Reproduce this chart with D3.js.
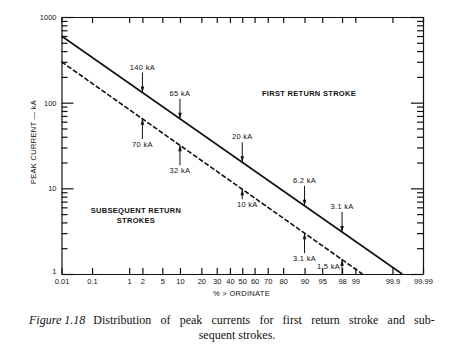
<!DOCTYPE html>
<html>
<head>
<meta charset="utf-8">
<script src="https://cdn.jsdelivr.net/npm/d3@7"></script>
<style>
    body { margin: 0; background: #fff; }
    svg { display: block; }
    .axis path, .axis line { stroke: #111; stroke-width: 1.2; }
    .axis text { font-family: 'Liberation Sans', Arial, sans-serif; fill: #111; }
    .label { font-family: 'Liberation Sans', Arial, sans-serif; font-size: 7.5px; fill: #111; letter-spacing: 0.3px; }
    .caption { font-family: 'Liberation Serif', 'Times New Roman', serif; font-size: 12px; fill: #111; }
</style>
</head>
<body>
<svg id="chart" width="474" height="351"></svg>
<script>
/**
 * Data.
 */
// Probability axis (% > ordinate)
const xTicks = [0.01, 0.1, 1, 2, 5, 10, 20, 30, 40, 50, 60, 70, 80, 90, 95, 98, 99, 99.9, 99.99];
// Peak current axis (kA), log scale
const yTicks = [1, 10, 100, 1000];
// Straight lines on probability paper, [percent, kA]
const firstStroke = [[0.01, 600], [99.95, 1]];
const subsequentStrokes = [[0.01, 300], [99.33, 1]];
// Marked values along each line
const firstMarks = [
    { p: 2, label: '140  kA' },
    { p: 10, label: '65  kA' },
    { p: 50, label: '20  kA' },
    { p: 90, label: '6.2  kA' },
    { p: 98, label: '3.1  kA' }
];
const subsequentMarks = [
    { p: 2, label: '70  kA' },
    { p: 10, label: '32  kA' },
    { p: 50, label: '10  kA' },
    { p: 90, label: '3.1  kA' },
    { p: 98, label: '1.5  kA' }
];

/**
 * Visual configs.
 */
const margin = { top: 17, left: 61.5 },
    plotWidth = 361.5,
    plotHeight = 257,
    majorTick = 12,
    minorTick = 6,
    arrowLen = 20;

// Inverse of the standard normal CDF (Acklam's approximation)
function probit(p) {
    const a = [-39.69683028665376, 220.9460984245205, -275.9285104469687, 138.3577518672690, -30.66479806614716, 2.506628277459239],
        b = [-54.47609879822406, 161.5858368580409, -155.6989798598866, 66.80131188771972, -13.28068155288572],
        c = [-0.007784894002430293, -0.3223964580411365, -2.400758277161838, -2.549732539343734, 4.374664141464968, 2.938163982698783],
        d = [0.007784695709041462, 0.3224671290700398, 2.445134137142996, 3.754408661907416];
    const lo = 0.02425;
    let q, r;
    if (p < lo) {
        q = Math.sqrt(-2 * Math.log(p));
        return (((((c[0] * q + c[1]) * q + c[2]) * q + c[3]) * q + c[4]) * q + c[5]) /
            ((((d[0] * q + d[1]) * q + d[2]) * q + d[3]) * q + 1);
    }
    if (p > 1 - lo) return -probit(1 - p);
    q = p - 0.5;
    r = q * q;
    return (((((a[0] * r + a[1]) * r + a[2]) * r + a[3]) * r + a[4]) * r + a[5]) * q /
        (((((b[0] * r + b[1]) * r + b[2]) * r + b[3]) * r + b[4]) * r + 1);
}
const z = pct => probit(pct / 100);

/**
 * D3.
 */
const xScale = d3.scaleLinear()
    .domain([z(0.01), z(99.99)])
    .range([0, plotWidth]);
const yScale = d3.scaleLog()
    .domain([1, 1000])
    .range([plotHeight, 0]);

const svg = d3.select('#chart');
const g = svg.append('g').attr('transform', 'translate(' + margin.left + ',' + margin.top + ')');

// Minor log ticks 2..9 per decade
const minorValues = [];
[1, 10, 100].forEach(dec => d3.range(2, 10).forEach(k => minorValues.push(dec * k)));

// Axes
const xValues = xTicks.map(z);
g.append('g').attr('class', 'axis x')
    .attr('transform', 'translate(0,' + plotHeight + ')')
    .call(d3.axisBottom(xScale).tickValues(xValues).tickSizeInner(-minorTick).tickSizeOuter(0).tickPadding(5)
        .tickFormat((d, i) => xTicks[i]));
g.append('g').attr('class', 'axis x-top')
    .call(d3.axisTop(xScale).tickValues(xValues).tickSizeInner(-minorTick).tickSizeOuter(0).tickFormat(''));

const yAxisG = g.append('g').attr('class', 'axis y')
    .call(d3.axisLeft(yScale).tickValues(yTicks).tickSizeInner(-majorTick).tickSizeOuter(0).tickPadding(5)
        .tickFormat(d3.format('d')));
// Lowest label sits a bit above the corner, clear of the 0.01 label
yAxisG.selectAll('.tick text').filter(d => d === 1).attr('dy', '-0.1em');
g.append('g').attr('class', 'axis y-minor')
    .call(d3.axisLeft(yScale).tickValues(minorValues).tickSizeInner(-minorTick).tickSizeOuter(0).tickFormat(''))
    .select('.domain').remove();
g.append('g').attr('class', 'axis y-right')
    .attr('transform', 'translate(' + plotWidth + ',0)')
    .call(d3.axisRight(yScale).tickValues(yTicks).tickSizeInner(-majorTick).tickSizeOuter(0).tickFormat(''));
g.append('g').attr('class', 'axis y-right-minor')
    .attr('transform', 'translate(' + plotWidth + ',0)')
    .call(d3.axisRight(yScale).tickValues(minorValues).tickSizeInner(-minorTick).tickSizeOuter(0).tickFormat(''))
    .select('.domain').remove();
g.selectAll('.axis text').attr('font-family', null).attr('font-size', null).style('font-size', '7.5px');

// Lines
const line = d3.line()
    .x(d => xScale(z(d[0])))
    .y(d => yScale(d[1]));
g.append('path').datum(firstStroke)
    .attr('d', line).attr('fill', 'none').attr('stroke', '#111').attr('stroke-width', 1.6);
g.append('path').datum(subsequentStrokes)
    .attr('d', line).attr('fill', 'none').attr('stroke', '#111').attr('stroke-width', 1.6)
    .attr('stroke-dasharray', '5,2');

// Current on a line at a given percent (straight in z / log space)
function valueAt(series, p) {
    const z0 = z(series[0][0]), z1 = z(series[1][0]),
        l0 = Math.log10(series[0][1]), l1 = Math.log10(series[1][1]);
    return Math.pow(10, l0 + (l1 - l0) * (z(p) - z0) / (z1 - z0));
}

function arrow(x, yTip, dir) {
    // dir = 1 arrow points down, -1 points up
    g.append('path')
        .attr('d', 'M' + x + ',' + yTip + 'l-1.8,' + (-dir * 6) + 'h3.6z')
        .attr('fill', '#111');
}

function addMarks(marks, series, side) {
    marks.forEach(m => {
        const x = xScale(z(m.p)),
            yTip = yScale(valueAt(series, m.p));
        if (side === 'above') {
            g.append('line').attr('x1', x).attr('x2', x).attr('y1', yTip - arrowLen).attr('y2', yTip)
                .attr('stroke', '#111').attr('stroke-width', 1);
            arrow(x, yTip, 1);
            g.append('text').attr('class', 'label').attr('x', x).attr('y', yTip - arrowLen - 3)
                .attr('text-anchor', 'middle').text(m.label);
        } else if (m.p === 98) {
            // Last mark sits on the axis, label to the left
            g.append('line').attr('x1', x).attr('x2', x).attr('y1', yTip).attr('y2', plotHeight)
                .attr('stroke', '#111').attr('stroke-width', 1);
            arrow(x, yTip, -1);
            g.append('text').attr('class', 'label').attr('x', x - 2).attr('y', plotHeight - 5)
                .attr('text-anchor', 'end').text(m.label);
        } else {
            const len = m.p === 50 ? 10 : arrowLen;
            g.append('line').attr('x1', x).attr('x2', x).attr('y1', yTip).attr('y2', yTip + len)
                .attr('stroke', '#111').attr('stroke-width', 1);
            arrow(x, yTip, -1);
            g.append('text').attr('class', 'label').attr('x', x + (m.p === 50 ? 5 : 0)).attr('y', yTip + len + 8)
                .attr('text-anchor', 'middle').text(m.label);
        }
    });
}
addMarks(firstMarks, firstStroke, 'above');
addMarks(subsequentMarks, subsequentStrokes, 'below');

// Region labels
g.append('text').attr('class', 'label').attr('x', 247.5).attr('y', 79)
    .attr('text-anchor', 'middle').style('font-weight', 'bold').text('FIRST RETURN STROKE');
g.append('text').attr('class', 'label').attr('x', 74.5).attr('y', 196)
    .attr('text-anchor', 'middle').style('font-weight', 'bold').text('SUBSEQUENT RETURN');
g.append('text').attr('class', 'label').attr('x', 74.5).attr('y', 206)
    .attr('text-anchor', 'middle').style('font-weight', 'bold').text('STROKES');

// Axis titles
svg.append('text').attr('class', 'label')
    .attr('transform', 'translate(36,142) rotate(-90)')
    .attr('text-anchor', 'middle').text('PEAK  CURRENT  —  kA');
svg.append('text').attr('class', 'label').attr('x', 241.5).attr('y', 296)
    .attr('text-anchor', 'middle').text('%  >  ORDINATE');

// Caption, first line justified to the print width
const cap1 = svg.append('text').attr('class', 'caption').attr('x', 29).attr('y', 324);
cap1.append('tspan').style('font-style', 'italic').text('Figure 1.18');
const capBody = cap1.append('tspan').attr('dx', 8).text('Distribution of peak currents for first return stroke and sub-');
const w = cap1.node().getComputedTextLength();
capBody.style('word-spacing', Math.max(0, (404 - w) / 10) + 'px');
svg.append('text').attr('class', 'caption').attr('x', 237).attr('y', 339)
    .attr('text-anchor', 'middle').text('sequent strokes.');
</script>
</body>
</html>
